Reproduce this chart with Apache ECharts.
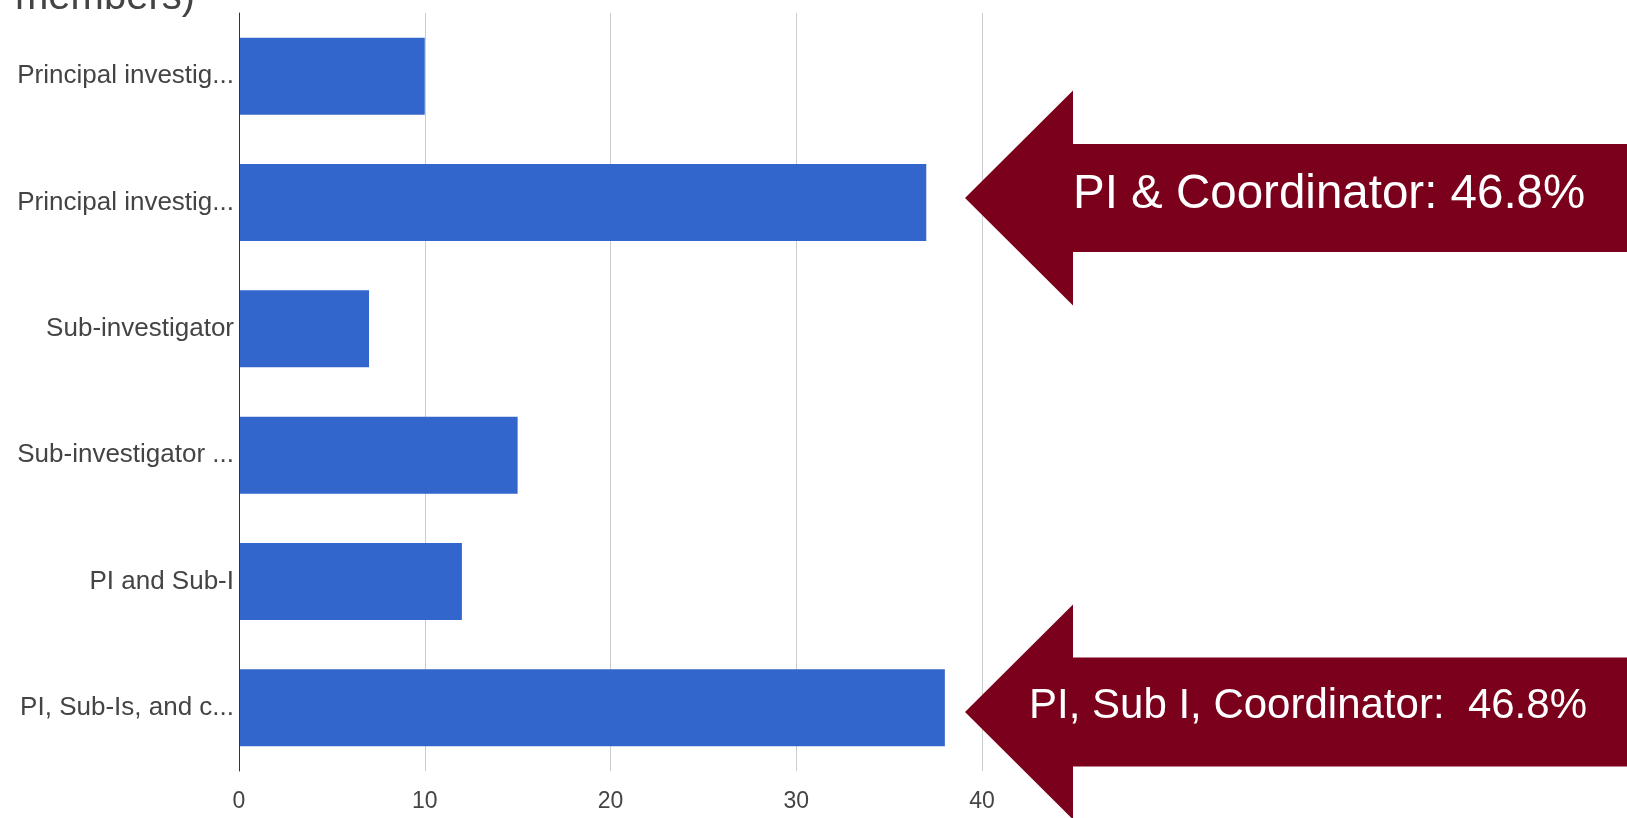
<!DOCTYPE html>
<html>
<head>
<meta charset="utf-8">
<script src="https://cdn.jsdelivr.net/npm/echarts@6/dist/echarts.min.js"></script>
<style>
  html, body { margin: 0; padding: 0; background: #ffffff; }
  #chart { width: 1627px; height: 818px; }
</style>
</head>
<body>
<div id="chart"></div>
<script>
// Role categories (labels shown truncated, as in the survey tool's chart)
const categories = [
  'Principal investig...',
  'Principal investig...',
  'Sub-investigator',
  'Sub-investigator ...',
  'PI and Sub-I',
  'PI, Sub-Is, and c...'
];
// Number of respondents per category
const counts = [10, 37, 7, 15, 12, 38];
// Value-axis ticks
const xTicks = [0, 10, 20, 30, 40];
// Callout texts
const calloutTop = 'PI & Coordinator: 46.8%';
const calloutBottom = 'PI, Sub I, Coordinator:  46.8%';
const titleTail = 'members)';

const FONT = '"Liberation Sans", Arial, sans-serif';
const ARROW = '#7b001c';

// Left-pointing block arrow, tip at (tipX, tipY)
function arrow(tipX, tipY, baseX, headHalf, shaftHalf, endX) {
  return {
    type: 'polygon',
    z: 100,
    shape: {
      points: [
        [tipX, tipY],
        [baseX, tipY - headHalf],
        [baseX, tipY - shaftHalf],
        [endX, tipY - shaftHalf],
        [endX, tipY + shaftHalf],
        [baseX, tipY + shaftHalf],
        [baseX, tipY + headHalf]
      ]
    },
    style: { fill: ARROW }
  };
}

const chart = echarts.init(document.getElementById('chart'), null, { renderer: 'canvas' });

chart.setOption({
  animation: false,
  backgroundColor: '#ffffff',
  grid: { left: 239, right: 645, top: 13, bottom: 47, containLabel: false },
  xAxis: {
    type: 'value',
    min: xTicks[0],
    max: xTicks[xTicks.length - 1],
    interval: xTicks[1] - xTicks[0],
    axisLine: { show: false },
    axisTick: { show: false },
    splitLine: { show: true, lineStyle: { color: '#cccccc', width: 1 } },
    axisLabel: { fontFamily: FONT, fontSize: 23, color: '#444444', margin: 19 }
  },
  yAxis: {
    type: 'category',
    inverse: true,
    data: categories,
    axisLine: { show: true, lineStyle: { color: '#333333', width: 1 } },
    axisTick: { show: false },
    axisLabel: { fontFamily: FONT, fontSize: 26, color: '#444444', margin: 5 },
    z: 5
  },
  series: [{
    type: 'bar',
    data: counts,
    barCategoryGap: '39%',
    itemStyle: { color: '#3366cc' }
  }],
  graphic: [
    {
      type: 'text',
      x: 15,
      y: -2,
      style: {
        text: titleTail,
        fontFamily: FONT,
        fontSize: 40,
        fill: '#444444',
        align: 'left',
        verticalAlign: 'middle'
      }
    },
    arrow(965, 198, 1073, 107.5, 54, 1640),
    arrow(965, 712, 1073, 107.5, 54.5, 1640),
    {
      type: 'text',
      z: 101,
      x: 1073,
      y: 195,
      style: {
        text: calloutTop,
        fontFamily: FONT,
        fontSize: 47.5,
        fill: '#ffffff',
        align: 'left',
        verticalAlign: 'middle'
      }
    },
    {
      type: 'text',
      z: 101,
      x: 1029,
      y: 706,
      style: {
        text: calloutBottom,
        fontFamily: FONT,
        fontSize: 42,
        fill: '#ffffff',
        align: 'left',
        verticalAlign: 'middle'
      }
    }
  ]
});
</script>
</body>
</html>
